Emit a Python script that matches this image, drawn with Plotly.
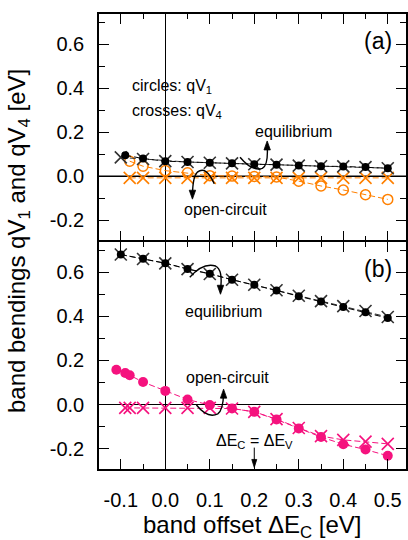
import plotly.graph_objects as go

# ---------------- data ----------------
# panel (a)
a_eq_v1_x = [-0.09, -0.05, 0.0, 0.05, 0.10, 0.15, 0.20, 0.25, 0.30, 0.35, 0.40, 0.45, 0.50]
a_eq_v1_y = [0.095, 0.080, 0.068, 0.064, 0.061, 0.058, 0.054, 0.052, 0.048, 0.045, 0.044, 0.041, 0.036]
a_eq_v4_x = [-0.10, -0.05, 0.0, 0.05, 0.10, 0.15, 0.20, 0.25, 0.30, 0.35, 0.40, 0.45, 0.50]
a_eq_v4_y = [0.085, 0.078, 0.068, 0.064, 0.061, 0.058, 0.054, 0.052, 0.048, 0.045, 0.044, 0.041, 0.036]
a_oc_x = [-0.08, -0.05, 0.0, 0.05, 0.10, 0.15, 0.20, 0.25, 0.30, 0.35, 0.40, 0.45, 0.50]
a_oc_v1_y = [0.068, 0.045, 0.025, 0.015, 0.002, 0.0, -0.002, -0.004, -0.023, -0.045, -0.063, -0.085, -0.106]
a_oc_v4_y = [-0.008, -0.008, -0.008, -0.008, -0.008, -0.008, -0.008, -0.008, -0.008, -0.008, -0.008, -0.008, -0.008]

# panel (b)
b_eq_x = [-0.10, -0.05, 0.0, 0.05, 0.10, 0.15, 0.20, 0.25, 0.30, 0.35, 0.40, 0.45, 0.50]
b_eq_v1_y = [0.680, 0.661, 0.641, 0.615, 0.593, 0.566, 0.543, 0.517, 0.491, 0.467, 0.442, 0.419, 0.392]
b_eq_v4_y = [0.680, 0.660, 0.640, 0.614, 0.592, 0.566, 0.543, 0.518, 0.493, 0.469, 0.446, 0.424, 0.397]
b_oc_v1_x = [-0.11, -0.09, -0.08, -0.05, 0.0, 0.05, 0.10, 0.15, 0.20, 0.25, 0.30, 0.35, 0.40, 0.45, 0.50]
b_oc_v1_y = [0.158, 0.143, 0.133, 0.102, 0.062, 0.023, -0.002, -0.018, -0.033, -0.068, -0.108, -0.147, -0.180, -0.204, -0.232]
b_oc_v4_x = [-0.09, -0.08, -0.05, 0.0, 0.05, 0.10, 0.15, 0.20, 0.25, 0.30, 0.35, 0.40, 0.45, 0.50]
b_oc_v4_y = [-0.015, -0.015, -0.015, -0.015, -0.015, -0.015, -0.018, -0.033, -0.066, -0.106, -0.143, -0.160, -0.168, -0.178]

x_tickvals = [-0.1, 0.0, 0.1, 0.2, 0.3, 0.4, 0.5]
x_ticktext = ["-0.1", "0.0", "0.1", "0.2", "0.3", "0.4", "0.5"]
y_tickvals = [-0.2, 0.0, 0.2, 0.4, 0.6]
y_ticktext = ["-0.2", "0.0", "0.2", "0.4", "0.6"]

# ---------------- style ----------------
FONT = "Liberation Sans, Arial, sans-serif"
BLACK = "#000000"
ORANGE = "#FF8000"
PINK = "#F5127E"
X_RANGE = [-0.149, 0.541]
Y_RANGE = [-0.292, 0.738]
W, H = 408, 540
M = dict(l=99, r=2, t=14, b=71)
LW = 1.5
PLOT_H = H - M["t"] - M["b"]
SPLIT = 228 / PLOT_H
# axis lines sit half a line width outside their domain; pull the two panels
# apart by one line width so both border lines land on the same pixels
GAP = LW / 2 / PLOT_H
DASH = "6px,3px"
TOP_DOMAIN = [SPLIT + GAP, 1]
BOTTOM_DOMAIN = [0, SPLIT - GAP]

fig = go.Figure()


def series(x, y, color, symbol, size, yaxis, fill=True):
    if symbol == "x-thin":
        marker = dict(symbol="x-thin", size=size, color=color,
                      line=dict(color=color, width=1.6))
    elif fill:
        marker = dict(symbol=symbol, size=size, color=color, line=dict(width=0))
    else:
        marker = dict(symbol=symbol, size=size, color=color,
                      line=dict(color=color, width=1.5))
    fig.add_trace(go.Scatter(
        x=x, y=y, mode="lines+markers", xaxis="x" if yaxis == "y2" else "x2", yaxis=yaxis,
        line=dict(color=color, width=1, dash=DASH), marker=marker,
        showlegend=False, hoverinfo="x+y"))


# panel (a)
series(a_oc_x, a_oc_v4_y, ORANGE, "x-thin", 12, "y")
series(a_oc_x, a_oc_v1_y, ORANGE, "circle-open", 10, "y", fill=False)
series(a_eq_v4_x, a_eq_v4_y, "#333333", "x-thin", 12, "y")
series(a_eq_v1_x, a_eq_v1_y, BLACK, "circle", 8, "y")

# panel (b)
series(b_oc_v4_x, b_oc_v4_y, PINK, "x-thin", 12, "y2")
series(b_oc_v1_x, b_oc_v1_y, PINK, "circle", 10, "y2")
series(b_eq_x, b_eq_v4_y, "#333333", "x-thin", 12, "y2")
series(b_eq_x, b_eq_v1_y, BLACK, "circle", 8, "y2")

# zero lines at ΔE_C = 0 and qV = 0 come from the axes' own zerolines
axis_common = dict(
    showline=True, linecolor=BLACK, linewidth=LW, mirror="allticks",
    ticks="inside", ticklen=10, tickwidth=1.3, tickcolor=BLACK,
    showgrid=False, zeroline=True, zerolinecolor=BLACK, zerolinewidth=1.2,
    automargin=False,
    tickfont=dict(family=FONT, size=20, color=BLACK),
)
xminor = dict(ticks="inside", ticklen=5, tickwidth=1.3, tickcolor=BLACK,
              dtick=0.05, tick0=0.0, showgrid=False)
yminor = dict(ticks="inside", ticklen=6, tickwidth=1.3, tickcolor=BLACK,
              dtick=0.1, tick0=0.0, showgrid=False)

fig.update_layout(
    width=W, height=H, margin=M,
    paper_bgcolor="white", plot_bgcolor="rgba(0,0,0,0)",
    font=dict(family=FONT, color=BLACK),
    xaxis=dict(axis_common, range=X_RANGE, tickvals=x_tickvals, ticktext=x_ticktext,
               minor=xminor, ticklabelstandoff=12, anchor="y2"),
    xaxis2=dict(axis_common, range=X_RANGE, tickvals=x_tickvals, showticklabels=False,
                minor=xminor, anchor="y", matches="x"),
    yaxis=dict(axis_common, range=Y_RANGE, tickvals=y_tickvals, ticktext=y_ticktext,
               domain=TOP_DOMAIN, anchor="x2", minor=yminor, ticklabelstandoff=9),
    yaxis2=dict(axis_common, range=Y_RANGE, tickvals=y_tickvals, ticktext=y_ticktext,
                domain=BOTTOM_DOMAIN, anchor="x", minor=yminor, ticklabelstandoff=9),
)

# horizontal qV = 0 line of panel (a), placed in paper space beneath the traces
y0_frac = (0 - Y_RANGE[0]) / (Y_RANGE[1] - Y_RANGE[0])
y0_paper = TOP_DOMAIN[0] + y0_frac * (TOP_DOMAIN[1] - TOP_DOMAIN[0])
fig.add_shape(type="line", xref="paper", yref="paper", x0=0, x1=1,
              y0=y0_paper, y1=y0_paper, line=dict(color=BLACK, width=1.2), layer="below")

# axis titles
fig.add_annotation(
    text="band bendings qV<sub>1</sub> and qV<sub>4</sub> [eV]",
    xref="paper", yref="paper", x=-0.262, y=0.5, textangle=-90,
    showarrow=False, xanchor="center", yanchor="middle",
    font=dict(family=FONT, size=24, color=BLACK))
fig.add_annotation(
    text="band offset ΔE<sub>C</sub> [eV]",
    xref="paper", yref="paper", x=0.5, y=-0.126,
    showarrow=False, xanchor="center", yanchor="middle",
    font=dict(family=FONT, size=24, color=BLACK))

# pixel scale of the data axes, used to size arrowheads
plot_w = W - M["l"] - M["r"]
px_x = plot_w / (X_RANGE[1] - X_RANGE[0])
px_y = PLOT_H * (1 - SPLIT) / (Y_RANGE[1] - Y_RANGE[0])


def curve(path, xr, yr):
    fig.add_shape(type="path", path=path, xref=xr, yref=yr,
                  line=dict(color=BLACK, width=1.4))


def head(x, y, direction, xr, yr, length=9, half=3.2):
    s = 1 if direction == "up" else -1
    base = y - s * length / px_y
    dx = half / px_x
    p = f"M {x},{y} L {x - dx},{base} L {x + dx},{base} Z"
    fig.add_shape(type="path", path=p, xref=xr, yref=yr,
                  line=dict(color=BLACK, width=0.8), fillcolor=BLACK)


# panel (a): equilibrium hook (up) and open-circuit hook (down)
curve("M 0.168,0.086 Q 0.195,0.02 0.218,0.035 Q 0.232,0.05 0.229,0.14", "x2", "y")
head(0.229, 0.16, "up", "x2", "y")
curve("M 0.110,-0.035 Q 0.092,0.05 0.072,0.018 Q 0.062,0.0 0.061,-0.085", "x2", "y")
head(0.061, -0.105, "down", "x2", "y")

# panel (b): equilibrium hook (down) and open-circuit hook (up)
curve("M 0.055,0.577 Q 0.085,0.645 0.113,0.628 Q 0.130,0.612 0.124,0.52", "x", "y2")
head(0.124, 0.50, "down", "x", "y2")
curve("M 0.070,-0.002 Q 0.095,-0.065 0.118,-0.042 Q 0.130,-0.025 0.131,0.05", "x", "y2")
head(0.131, 0.07, "up", "x", "y2")

# ΔE_C = ΔE_V marker arrow
fig.add_shape(type="line", xref="x", yref="y2", x0=0.2, x1=0.2, y0=-0.195, y1=-0.255,
              line=dict(color=BLACK, width=1))
head(0.2, -0.285, "down", "x", "y2", length=8, half=2.5)

TXT = dict(family=FONT, size=16, color=BLACK)


def label(text, x, y, xr, yr, xanchor="left", size=16):
    fig.add_annotation(text=text, x=x, y=y, xref=xr, yref=yr, showarrow=False,
                       xanchor=xanchor, yanchor="middle",
                       font=dict(TXT, size=size))


label("circles: qV<sub>1</sub>", -0.08, 0.41, "x2", "y")
label("crosses: qV<sub>4</sub>", -0.08, 0.295, "x2", "y")
label("equilibrium", 0.198, 0.205, "x2", "y")
label("open-circuit", 0.038, -0.15, "x2", "y")
label("(a)", 0.514, 0.615, "x2", "y", xanchor="right", size=23)

label("(b)", 0.514, 0.615, "x", "y2", xanchor="right", size=23)
label("equilibrium", 0.039, 0.42, "x", "y2")
label("open-circuit", 0.043, 0.122, "x", "y2")
label("ΔE<sub>C</sub> = ΔE<sub>V</sub>", 0.110, -0.168, "x", "y2")

fig.write_html("out.html")
